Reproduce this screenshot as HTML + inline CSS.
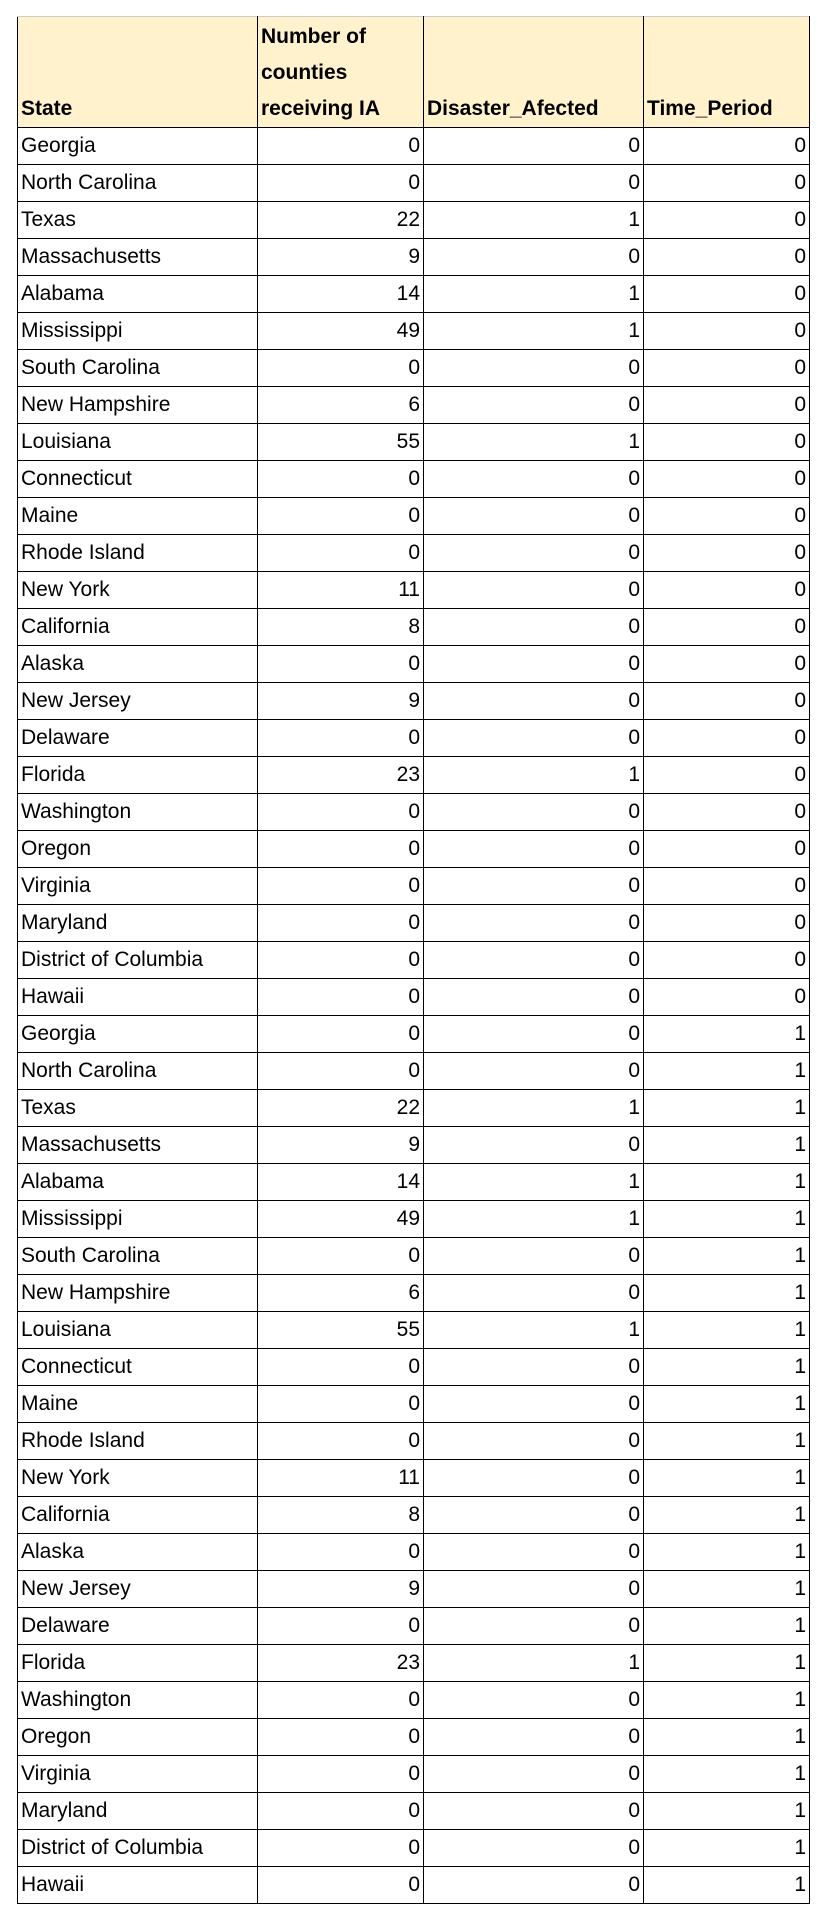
<!DOCTYPE html>
<html><head><meta charset="utf-8"><style>
body{margin:0;background:#fff;width:824px;height:1928px;overflow:hidden;font-family:"Liberation Sans",sans-serif;}
table{position:absolute;left:17px;top:16px;border-collapse:collapse;table-layout:fixed;}
td,th{border:1px solid #000;height:36px;padding:0 3px;font-size:21px;line-height:36px;white-space:nowrap;overflow:hidden;}
th{background:#fff2cc;font-weight:bold;text-align:left;vertical-align:bottom;height:110px;line-height:36px;white-space:normal;border-top:1px solid #ccc;}
td.n{text-align:right;}
</style></head><body>
<table>
<colgroup><col style="width:240px"><col style="width:166px"><col style="width:220px"><col style="width:166px"></colgroup>
<thead><tr>
<th>State</th>
<th>Number of counties receiving IA</th>
<th>Disaster_Afected</th>
<th>Time_Period</th>
</tr></thead>
<tbody id="tb"></tbody></table>
<script>
const states=["Georgia","North Carolina","Texas","Massachusetts","Alabama","Mississippi","South Carolina","New Hampshire","Louisiana","Connecticut","Maine","Rhode Island","New York","California","Alaska","New Jersey","Delaware","Florida","Washington","Oregon","Virginia","Maryland","District of Columbia","Hawaii"];
const counties=[0,0,22,9,14,49,0,6,55,0,0,0,11,8,0,9,0,23,0,0,0,0,0,0];
const affected=[0,0,1,0,1,1,0,0,1,0,0,0,0,0,0,0,0,1,0,0,0,0,0,0];
const periods=[0,1];
const tb=document.getElementById('tb');
periods.forEach(p=>{
  states.forEach((s,i)=>{
    const tr=document.createElement('tr');
    
    
    [s,counties[i],affected[i],p].forEach((v,j)=>{
      const td=document.createElement('td');
      td.textContent=v;
      if(j>0)td.className='n';
      
      
      tr.appendChild(td);
    });
    tb.appendChild(tr);
  });
});
</script>
</body></html>
